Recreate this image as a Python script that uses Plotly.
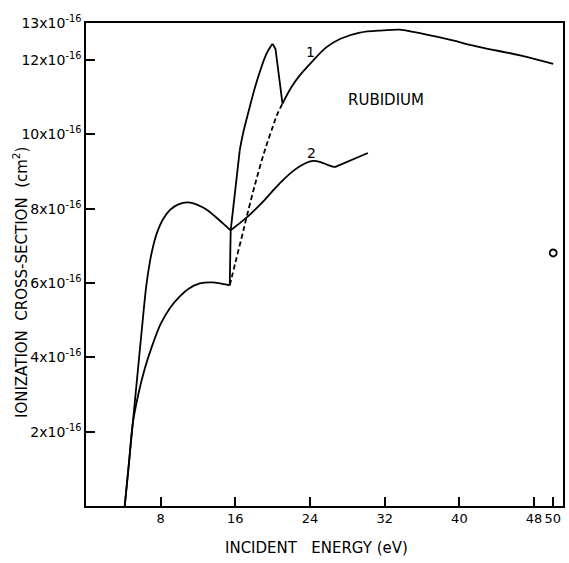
import plotly.graph_objects as go

# ---- data (cross-section in units of 1e-16 cm^2, energy in eV) ----
# Curve 1: rising branch to first plateau
c1a_x = [4.15, 4.6, 5.0, 5.6, 6.3, 7.0, 8.0, 9.0, 10.0, 11.0, 12.2, 13.5, 14.6, 15.4]
c1a_y = [0.0, 1.15, 2.2, 3.0, 3.7, 4.25, 4.9, 5.33, 5.63, 5.85, 5.99, 6.02, 5.98, 5.94]
# Curve 1: steep near-vertical jump
c1b_x = [15.4, 15.5, 16.47]
c1b_y = [5.94, 7.42, 9.57]
# Curve 1: rise to sharp peak
c1c_x = [16.47, 16.8, 17.5, 18.26, 19.33, 19.98]
c1c_y = [9.57, 10.0, 10.7, 11.4, 12.17, 12.44]
# Curve 1: drop after peak
c1d_x = [19.98, 20.3, 21.05]
c1d_y = [12.44, 12.3, 10.83]
# Curve 1: high-energy branch
c1e_x = [21.05, 22.0, 22.9, 24.33, 25.77, 27.2, 29.34, 31.8, 33.6, 35.05, 38.6, 42.2, 46.5, 50.05]
c1e_y = [10.83, 11.27, 11.59, 11.99, 12.35, 12.57, 12.74, 12.8, 12.82, 12.76, 12.57, 12.35, 12.13, 11.9]
# Curve 1: dashed alternative
c1_dash_x = [15.4, 16.0, 16.65, 17.19, 18.1, 19.15, 20.0, 20.5, 21.05]
c1_dash_y = [5.94, 6.55, 7.2, 7.76, 8.65, 9.57, 10.2, 10.55, 10.83]

# Curve 2
c2a_x = [4.15, 4.6, 5.0, 5.5, 6.0, 6.47, 6.9, 7.2, 7.6, 8.25, 9.0, 9.9, 10.93, 12.0, 12.9, 13.8, 14.7, 15.5]
c2a_y = [0.0, 1.15, 2.2, 3.5, 4.8, 5.95, 6.65, 7.0, 7.35, 7.72, 7.97, 8.12, 8.17, 8.1, 7.98, 7.8, 7.6, 7.42]
c2b_x = [15.5, 16.3, 17.19, 18.2, 19.15, 20.0, 20.94, 22.2, 23.44, 24.3, 25.2, 26.1, 26.65]
c2b_y = [7.42, 7.58, 7.76, 8.0, 8.24, 8.48, 8.73, 9.02, 9.22, 9.29, 9.25, 9.16, 9.12]
c2c_x = [26.65, 30.2]
c2c_y = [9.12, 9.5]

# single open-circle point
pt_x = [50.05]
pt_y = [6.81]

x_ticks = [8, 16, 24, 32, 40, 48, 50]
x_ticklabels = ["8", "16", "24", "32", "40", "48", "50"]
y_ticks = [2, 4, 6, 8, 10, 12, 13]
y_ticklabels = [f"{v}x10<sup>-16</sup>" for v in y_ticks]

FONT = "DejaVu Sans"
LW = 1.8

fig = go.Figure()

def add_line(x, y, shape="spline", dash="solid"):
    fig.add_trace(go.Scatter(
        x=x, y=y, mode="lines",
        line=dict(color="black", width=LW, shape=shape, dash=dash),
        showlegend=False, hoverinfo="skip"))

add_line(c1a_x, c1a_y)
add_line(c1b_x, c1b_y, shape="linear")
add_line(c1c_x, c1c_y)
add_line(c1d_x, c1d_y, shape="linear")
add_line(c1e_x, c1e_y)
add_line(c1_dash_x, c1_dash_y, dash="5px,3px")
add_line(c2a_x, c2a_y)
add_line(c2b_x, c2b_y)
add_line(c2c_x, c2c_y, shape="linear")

fig.add_trace(go.Scatter(
    x=pt_x, y=pt_y, mode="markers", cliponaxis=False,
    marker=dict(symbol="circle-open", size=7, color="black", line=dict(width=1.8)),
    showlegend=False, hoverinfo="skip"))

annos = [
    dict(x=24.1, y=12.22, xref="x", yref="y", text="1", showarrow=False,
         font=dict(family=FONT, size=14, color="black")),
    dict(x=24.2, y=9.5, xref="x", yref="y", text="2", showarrow=False,
         font=dict(family=FONT, size=14, color="black")),
    dict(x=32.1, y=10.92, xref="x", yref="y", text="RUBIDIUM", showarrow=False,
         font=dict(family=FONT, size=15, color="black")),
    dict(x=-0.138, y=0.462, xref="paper", yref="paper",
         text="IONIZATION\u00a0 CROSS-SECTION\u00a0 (cm<sup>2</sup>)", textangle=-90,
         showarrow=False, xanchor="center", yanchor="middle",
         font=dict(family=FONT, size=15, color="black")),
    dict(x=0.484, y=-0.087, xref="paper", yref="paper",
         text="INCIDENT\u00a0\u00a0 ENERGY (eV)", showarrow=False,
         xanchor="center", yanchor="middle",
         font=dict(family=FONT, size=15, color="black")),
]

fig.update_layout(
    width=569, height=563,
    margin=dict(l=86, r=6, t=23, b=57, autoexpand=False),
    paper_bgcolor="white", plot_bgcolor="white",
    annotations=annos,
    xaxis=dict(range=[0, 51.1], tickvals=x_ticks, ticktext=x_ticklabels,
               tickangle=0, automargin=False,
               ticks="inside", ticklen=9, tickwidth=1.5, tickcolor="black",
               showline=True, linecolor="black", linewidth=1.6, mirror=True,
               showgrid=False, zeroline=False,
               tickfont=dict(family=FONT, size=13, color="black")),
    yaxis=dict(range=[0, 13], tickvals=y_ticks, ticktext=y_ticklabels,
               automargin=False,
               ticks="inside", ticklen=9, tickwidth=1.5, tickcolor="black",
               showline=True, linecolor="black", linewidth=1.6, mirror=True,
               showgrid=False, zeroline=False,
               tickfont=dict(family=FONT, size=14, color="black")),
)

fig.write_html("out.html", config={"displayModeBar": False},
               post_script="document.body.style.margin='0';document.body.style.padding='0';")
